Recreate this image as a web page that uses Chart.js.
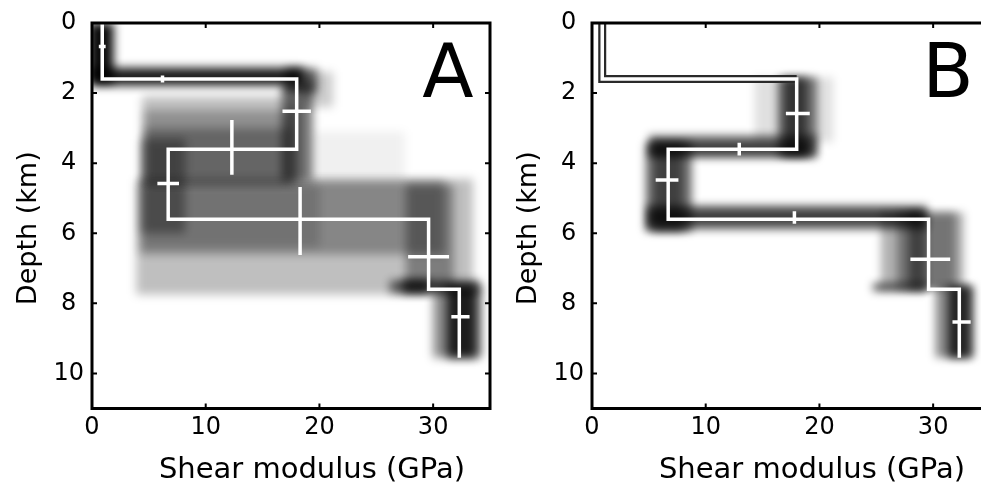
<!DOCTYPE html>
<html lang="en">
<head>
<meta charset="UTF-8">
<title>Shear modulus profiles</title>
<style>
    html, body { margin: 0; overflow: hidden; background: #fff; width: 981px; height: 491px; }
    canvas { position: absolute; top: 0; }
    #panelA { left: 0; }
    #panelB { left: 500px; }
</style>
</head>
<body>
<canvas id="panelA" width="500" height="491"></canvas>
<canvas id="panelB" width="500" height="491"></canvas>

<script src="https://cdn.jsdelivr.net/npm/chart.js@4"></script>
<script>
// Axis text
const xTitle = 'Shear modulus (GPa)';
const yTitle = 'Depth (km)';
const xTicks = [0, 10, 20, 30];
const yTicks = [0, 2, 4, 6, 8, 10];

// True layered model (white line): layer boundaries in km, modulus in GPa
const trueDepths = [0, 1.6, 3.6, 5.6, 7.6, 9.55];
const trueModulus = [0.9, 18.0, 6.7, 29.6, 32.3];

// Posterior estimates (white crosses): [modulus, depth, +-modulus, +-depth]
const errorsA = [
    [0.9, 0.67, 0.3, 0],
    [6.2, 1.6, 0, 0.1],
    [18.0, 2.52, 1.25, 0],
    [12.3, 3.55, 0, 0.78],
    [6.7, 4.58, 0.95, 0],
    [18.3, 5.65, 0, 0.97],
    [29.6, 6.67, 1.8, 0],
    [32.4, 8.38, 0.8, 0]
];
const errorsB = [
    [18.1, 2.58, 1.05, 0],
    [12.95, 3.6, 0, 0.18],
    [6.6, 4.48, 1.0, 0],
    [17.8, 5.55, 0, 0.18],
    [29.75, 6.74, 1.75, 0],
    [32.5, 8.53, 0.8, 0]
];

// Posterior density cells: [modulus from, modulus to, depth from, depth to, density]
const densityA = [
    [-0.3, 1.9, 0, 1.7, 0.95],
    [0, 18.6, 1.28, 1.78, 0.9],
    [17.0, 19.8, 1.3, 2.0, 0.6],
    [18.5, 21.2, 1.4, 2.4, 0.2],
    [16.7, 19.4, 1.7, 4.5, 0.55],
    [4.4, 18.3, 2.1, 4.6, 0.25],
    [4.6, 18.0, 2.5, 4.6, 0.25],
    [4.6, 17.5, 3.0, 4.6, 0.3],
    [4.3, 8.2, 3.3, 6.0, 0.35],
    [19.4, 27.5, 3.1, 4.5, 0.06],
    [3.9, 33.5, 4.45, 7.75, 0.25],
    [4.2, 31.0, 4.5, 6.6, 0.3],
    [4.5, 20.0, 4.6, 6.4, 0.15],
    [27.6, 31.8, 4.6, 7.6, 0.35],
    [26.2, 34.1, 7.35, 7.7, 0.6],
    [27.3, 29.6, 7.35, 7.7, 0.7],
    [30.0, 34.3, 7.5, 9.55, 0.45],
    [31.2, 33.8, 7.5, 9.55, 0.8]
];
const densityB = [
    [14.3, 21.2, 1.55, 3.4, 0.12],
    [16.3, 19.8, 1.55, 3.8, 0.5],
    [16.9, 18.9, 1.55, 3.8, 0.55],
    [5.0, 19.7, 3.2, 3.85, 0.55],
    [5.2, 19.0, 3.4, 3.75, 0.5],
    [4.7, 8.8, 3.4, 5.95, 0.55],
    [5.4, 8.0, 3.4, 5.95, 0.45],
    [4.8, 29.5, 5.2, 5.9, 0.55],
    [5.0, 29.0, 5.35, 5.72, 0.5],
    [25.4, 32.7, 5.4, 7.6, 0.3],
    [26.8, 32.0, 5.4, 7.6, 0.35],
    [27.8, 29.4, 5.4, 7.6, 0.45],
    [24.7, 29.4, 7.42, 7.66, 0.6],
    [30.2, 33.6, 7.5, 9.55, 0.45],
    [31.3, 33.3, 7.5, 9.55, 0.75]
];

const FONT = "'DejaVu Sans'";
Chart.defaults.font.family = FONT;
Chart.defaults.color = '#000';

function stepPoints(depths, values, upTo) {
    const pts = [];
    for (let i = 0; i < values.length; i++) {
        pts.push({x: values[i], y: depths[i]});
        pts.push({x: values[i], y: depths[i + 1]});
    }
    return upTo ? pts.slice(0, upTo) : pts;
}

function lineSet(data, color, width) {
    return { data, showLine: true, borderColor: color, borderWidth: width,
             borderCapStyle: 'butt', borderJoinStyle: 'miter',
             pointRadius: 0, pointHitRadius: 0, fill: false, clip: 0 };
}

function buildDatasets(errors, density, blur, outline) {
    const sets = [];
    errors.forEach(([m, d, dm, dd]) => {
        if (dm > 0) sets.push(lineSet([{x: m - dm, y: d}, {x: m + dm, y: d}], '#fff', 3.5));
        if (dd > 0) sets.push(lineSet([{x: m, y: d - dd}, {x: m, y: d + dd}], '#fff', 3.5));
    });
    sets.push(lineSet(stepPoints(trueDepths, trueModulus), '#fff', 3.5));
    if (outline) {
        // narrow posterior hugging the first layer
        sets.push(lineSet(stepPoints(trueDepths, trueModulus, 3), '#2a2a2a', 8));
    }
    density.forEach(([x0, x1, d0, d1, p]) => {
        const s = lineSet([{x: x0, y: d0}, {x: x1, y: d0}, {x: x1, y: d1}, {x: x0, y: d1}],
                          'rgba(0,0,0,0)', 0);
        s.fill = 'shape';
        s.backgroundColor = 'rgba(0,0,0,' + p + ')';
        s.blur = blur;
        sets.push(s);
    });
    return sets;
}

function setBlur(ctx, ds) {
    ctx.filter = ds && ds.blur ? 'blur(' + ds.blur + 'px)' : 'none';
}

const panelPlugin = {
    id: 'panel',
    beforeDatasetsDraw(chart) {
        const ds = chart.data.datasets;
        setBlur(chart.ctx, ds[ds.length - 1]);
    },
    afterDatasetDraw(chart, args) {
        setBlur(chart.ctx, chart.data.datasets[args.index - 1]);
    },
    afterDatasetsDraw(chart) {
        chart.ctx.filter = 'none';
    },
    afterDraw(chart, args, opts) {
        const {ctx, chartArea: a, scales: {x, y}} = chart;
        ctx.save();
        ctx.strokeStyle = '#000';
        ctx.lineWidth = 3;
        ctx.strokeRect(a.left, a.top, a.right - a.left, a.bottom - a.top);
        ctx.lineWidth = 2;
        ctx.beginPath();
        x.ticks.forEach(t => {
            if (t.value === 0) return;
            const px = x.getPixelForValue(t.value);
            ctx.moveTo(px, a.bottom); ctx.lineTo(px, a.bottom - 5);
            ctx.moveTo(px, a.top); ctx.lineTo(px, a.top + 5);
        });
        y.ticks.forEach(t => {
            if (t.value === 0) return;
            const py = y.getPixelForValue(t.value);
            ctx.moveTo(a.left, py); ctx.lineTo(a.left + 5, py);
            ctx.moveTo(a.right, py); ctx.lineTo(a.right - 5, py);
        });
        ctx.stroke();

        ctx.fillStyle = '#000';
        ctx.textAlign = 'center';
        ctx.textBaseline = 'alphabetic';
        ctx.font = '29px ' + FONT;
        ctx.fillText(xTitle, (a.left + a.right) / 2 + 21, a.bottom + 69.5);
        ctx.font = '75px ' + FONT;
        ctx.fillText(opts.letter, a.right - 42, a.top + 74);
        ctx.translate(a.left - 56, (a.top + a.bottom) / 2 + 12.5);
        ctx.rotate(-Math.PI / 2);
        ctx.font = '27px ' + FONT;
        ctx.fillText(yTitle, 0, 0);
        ctx.restore();
    }
};

function makePanel(id, letter, errors, density, blur, outline) {
    return new Chart(document.getElementById(id), {
        type: 'scatter',
        data: { datasets: buildDatasets(errors, density, blur, outline) },
        options: {
            responsive: false,
            animation: false,
            events: [],
            layout: { padding: { top: 23, right: 10, bottom: 0, left: 0 } },
            plugins: { legend: { display: false }, tooltip: { enabled: false }, panel: { letter } },
            scales: {
                x: {
                    type: 'linear', min: 0, max: 35,
                    afterBuildTicks: s => { s.ticks = xTicks.map(v => ({value: v})); },
                    afterFit: s => { s.height = 82.5; },
                    grid: { display: false, drawTicks: false },
                    border: { display: false },
                    ticks: { font: { size: 24 }, padding: 5, maxRotation: 0 }
                },
                y: {
                    type: 'linear', min: 0, max: 11, reverse: true,
                    afterBuildTicks: s => { s.ticks = yTicks.map(v => ({value: v})); },
                    afterFit: s => { s.width = 92; },
                    grid: { display: false, drawTicks: false },
                    border: { display: false },
                    ticks: { font: { size: 24 }, padding: 8, crossAlign: 'center' }
                }
            }
        },
        plugins: [panelPlugin]
    });
}

makePanel('panelA', 'A', errorsA, densityA, 5, false);
makePanel('panelB', 'B', errorsB, densityB, 4, true);
</script>
</body>
</html>
